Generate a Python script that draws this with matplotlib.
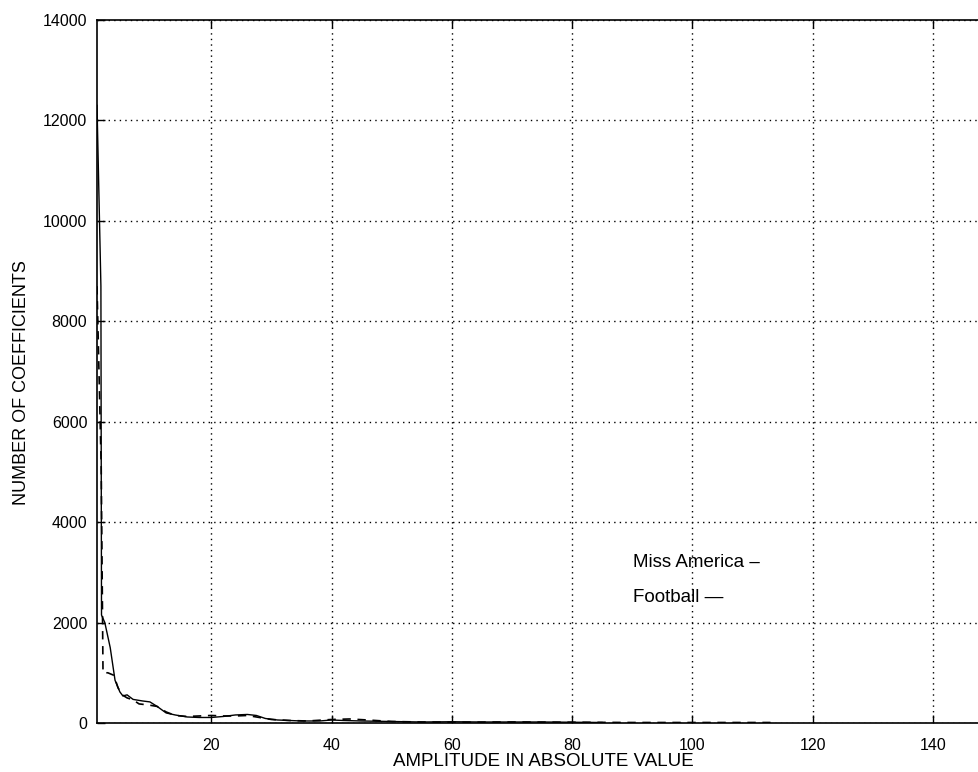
import matplotlib
matplotlib.use("Agg")
import matplotlib.pyplot as plt

plt.rcParams['font.family'] = ['Liberation Sans', 'DejaVu Sans']

# Football / Miss America coefficient amplitude histograms
solid_x = [1, 1.65, 1.75, 2.3, 3.2, 4.0, 4.8, 5.3, 6.0, 7.0, 8.5, 9.8, 11, 12.5, 14, 16, 18,
           20, 22, 24, 26, 27.5, 29, 31, 33, 35, 38, 40, 42, 45, 50, 55, 60, 65, 70, 75, 80, 85]
solid_y = [12300, 8700, 2150, 2000, 1500, 850, 620, 540, 560, 470, 440, 420, 330, 200, 160,
           120, 110, 110, 130, 160, 170, 150, 90, 60, 50, 40, 40, 60, 50, 40, 30, 20, 25, 20,
           20, 20, 15, 10]

dashed_x = [1, 1.7, 2.0, 2.8, 3.8, 4.5, 5.2, 6.0, 7.0, 8.0, 9.5, 11, 12.5, 14, 16, 18, 20, 22,
            24, 26, 28, 30, 33, 36, 40, 43, 46, 50, 55, 60, 70, 80, 90, 100, 113]
dashed_y = [8700, 5100, 1000, 1000, 950, 700, 560, 500, 460, 380, 360, 330, 220, 150, 130, 140,
            150, 140, 140, 150, 110, 70, 50, 40, 70, 80, 60, 30, 20, 15, 20, 15, 10, 10, 10]

x_ticks = [20, 40, 60, 80, 100, 120, 140]
y_ticks = [0, 2000, 4000, 6000, 8000, 10000, 12000, 14000]

fig = plt.figure(figsize=(9.79, 7.72), dpi=100)
ax = fig.add_axes([97/979, 1 - 723/772, 1 - 97/979 + 0.002, (723 - 20)/772])

ax.plot(solid_x, solid_y, color='black', lw=1.0, solid_joinstyle='miter')
ax.plot(dashed_x, dashed_y, color='black', lw=1.2, linestyle=(0, (5, 4)))

ax.set_xlim(1, 148)
ax.set_ylim(0, 14000)
ax.set_xticks(x_ticks)
ax.set_yticks(y_ticks)
ax.set_xticklabels([str(v) for v in x_ticks])
ax.set_yticklabels([str(v) for v in y_ticks])

ax.grid(True, color='black', linestyle=(0, (1, 3)), lw=1.0)
ax.tick_params(direction='in', length=6, width=1, top=True, right=False,
               labelsize=11.5)
ax.tick_params(axis='x', pad=11)
ax.tick_params(axis='y', pad=7)
for s in ['left', 'bottom', 'top']:
    ax.spines[s].set_linewidth(1.2)
ax.spines['right'].set_visible(False)

ax.set_xlabel('AMPLITUDE IN ABSOLUTE VALUE', fontsize=13.5, labelpad=0)
ax.set_ylabel('NUMBER OF COEFFICIENTS', fontsize=13, labelpad=9)
ax.xaxis.label.set_x(0.505)
ax.yaxis.label.set_y(0.484)

ax.text(90.2, 3190, 'Miss America \u2013', fontsize=13.5, va='center', ha='left')
ax.text(90.2, 2490, 'Football \u2014', fontsize=13.5, va='center', ha='left')

fig.savefig('out.png', dpi=100)
